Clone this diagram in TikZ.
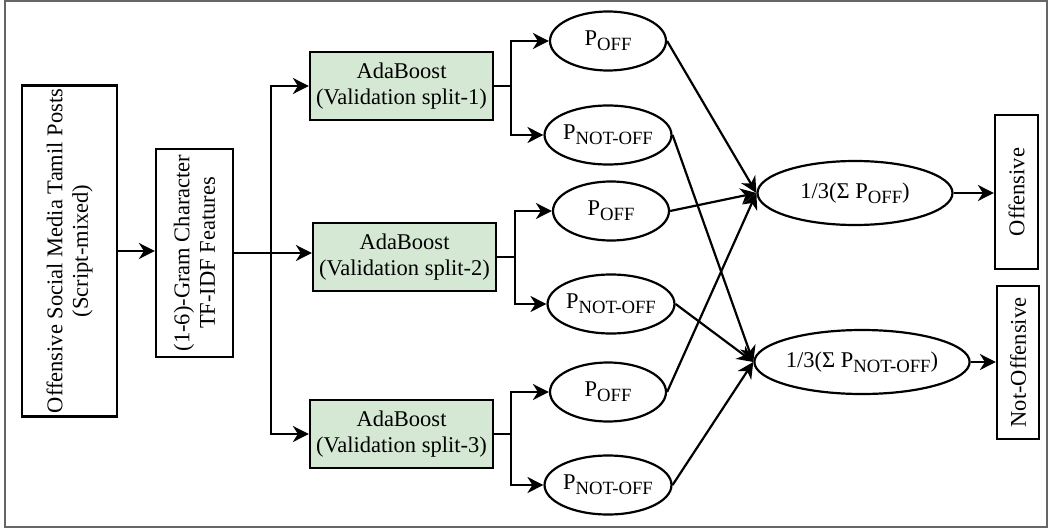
\documentclass[tikz,border=0pt]{standalone}
\usepackage{fontspec}
\setmainfont{Liberation Serif}
\usetikzlibrary{shapes.geometric,arrows.meta}
\definecolor{adagreen}{HTML}{D5E8D4}
\newcommand\mysub[1]{\raisebox{-5pt}{\fontsize{18.7}{20}\selectfont #1}}
\begin{document}
\begin{tikzpicture}[x=1pt,y=-1pt, line width=2.2pt,
  every node/.style={font=\fontsize{22.5}{25.5}\selectfont},
  box/.style={draw, rectangle, inner sep=0pt, align=center},
  vbox/.style={box, rotate=90},
  ada/.style={box, fill=adagreen, minimum width=183pt, minimum height=68pt},
  prob/.style={draw, ellipse, inner sep=0pt, minimum width=116pt, minimum height=59pt},
  avg/.style={draw, ellipse, inner sep=0pt, minimum width=195pt, minimum height=64pt},
  arr/.style={-{Stealth[length=16pt,width=16pt,inset=5pt]}}]
\useasboundingbox (0,0) rectangle (1051,532);
\draw[black!60, line width=1.5pt] (5,1) rectangle (1047,527);

\node[vbox, minimum width=331pt, minimum height=95pt] (posts) at (69.5,251) {Offensive Social Media Tamil Posts\\(Script-mixed)};
\node[vbox, minimum width=208pt, minimum height=77pt] (tfidf) at (194.5,253) {(1-6)-Gram Character\\TF-IDF Features};

\node[ada] (a1) at (401.5,86) {AdaBoost\\(Validation split-1)};
\node[ada] (a2) at (404.5,257) {AdaBoost\\(Validation split-2)};
\node[ada] (a3) at (401.5,434) {AdaBoost\\(Validation split-3)};

\node[prob] (p1) at (608,41) {P\mysub{OFF}};
\node[prob] (n1) at (608,135) {P\mysub{NOT-OFF}};
\node[prob] (p2) at (611,211) {P\mysub{OFF}};
\node[prob] (n2) at (611,304) {P\mysub{NOT-OFF}};
\node[prob] (p3) at (608,392) {P\mysub{OFF}};
\node[prob] (n3) at (608,485) {P\mysub{NOT-OFF}};

\node[avg] (soff) at (855,193) {1/3(Σ P\mysub{OFF})};
\node[avg] (snot) at (862,362) {1/3(Σ P\mysub{NOT-OFF})};

\node[vbox, minimum width=154pt, minimum height=43pt] (off) at (1016.5,192) {Offensive};
\node[vbox, minimum width=153pt, minimum height=42pt] (notoff) at (1018,362.5) {Not-Offensive};

\coordinate (split) at (271,0);
\coordinate (b1) at (511,0);
\coordinate (b2) at (515,0);
\coordinate (b3) at (511,0);

\draw[arr] (posts.south) -- (posts.south -| tfidf.north);
\draw (tfidf.south) -- (tfidf.south -| split);
\draw[arr] (tfidf.south -| split) -- (a2.west |- tfidf.south);
\draw[arr] (tfidf.south -| split) |- (a1.west);
\draw[arr] (tfidf.south -| split) |- (a3.west);

\draw (a1.east) -- (a1.east -| b1);
\draw[arr] (a1.east -| b1) |- (p1.west);
\draw[arr] (a1.east -| b1) |- (n1.west);
\draw (a2.east) -- (a2.east -| b2);
\draw[arr] (a2.east -| b2) |- (p2.west);
\draw[arr] (a2.east -| b2) |- (n2.west);
\draw (a3.east) -- (a3.east -| b3);
\draw[arr] (a3.east -| b3) |- (p3.west);
\draw[arr] (a3.east -| b3) |- (n3.west);

\draw[arr] (p1.east) -- (soff.west);
\draw[arr] (p2.east) -- (soff.west);
\draw[arr] (p3.east) -- (soff.west);
\draw[arr] (n1.east) -- (snot.west);
\draw[arr] (n2.east) -- (snot.west);
\draw[arr] (n3.east) -- (snot.west);

\draw[arr] (soff.east) -- (soff.east -| off.north);
\draw[arr] (snot.east) -- (snot.east -| notoff.north);
\end{tikzpicture}
\end{document}
